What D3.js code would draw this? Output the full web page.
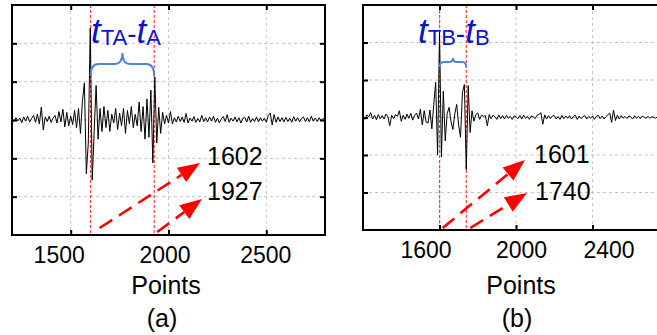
<!DOCTYPE html>
<html>
<head>
<meta charset="utf-8">
<script src="https://cdn.jsdelivr.net/npm/d3@7"></script>
<style>
  body { margin: 0; background: #fff; }
  svg { display: block; }
  svg text { font-family: "Liberation Sans", Arial, sans-serif; }
</style>
</head>
<body>
<div id="chart"></div>
<script>
// sampled waveforms, one value every 10 points starting at point 1200
const startPoint = 1200;
const stepPoint = 10;

const sigA = [
  0.03,-0.04,0.06,-0.02,0.05,-0.07,0.08,-0.03,0.10,-0.05,
  0.04,0.12,-0.06,0.15,-0.10,0.34,-0.26,0.08,-0.04,0.10,
  -0.06,0.05,0.12,-0.08,0.22,-0.05,0.28,-0.18,0.20,-0.15,
  0.10,-0.12,0.25,-0.20,0.30,-0.35,0.50,0.97,-1.40,-0.60,
  2.40,-1.57,-0.30,0.90,-0.50,0.30,-0.30,0.35,-0.20,0.25,
  -0.30,0.15,-0.08,0.30,-0.25,0.18,-0.15,0.30,-0.35,0.25,
  -0.10,0.35,-0.20,0.15,-0.15,0.47,-0.30,0.35,-0.50,0.55,
  -0.45,0.78,-1.12,1.12,-0.60,0.33,-0.35,0.20,-0.10,0.12,
  -0.08,0.22,-0.10,0.06,-0.05,0.10,-0.04,0.08,-0.06,0.17,
  -0.08,0.05,-0.03,0.09,-0.06,0.04,-0.05,0.12,-0.04,0.06,
  -0.05,0.08,-0.03,0.10,-0.06,0.05,-0.07,0.03,0.09,-0.04,
  0.14,-0.06,0.05,-0.03,0.08,-0.05,0.06,-0.08,0.04,0.07,
  -0.05,0.10,-0.06,0.04,-0.04,0.08,-0.05,0.06,-0.03,0.05,
  -0.06,0.12,0.18,-0.13,0.14,-0.06,0.08,-0.04,0.06,-0.05,
  0.07,-0.04,0.05,-0.06,0.09,-0.03,0.06,-0.05,0.04,0.08,
  -0.04,0.06,-0.05,0.10,-0.03,0.05,-0.04,0.06,-0.02,0.04,
  0.00
];

const sigB = [
  0.04,-0.05,0.07,0.02,0.13,-0.04,0.06,-0.06,0.08,-0.03,
  0.05,-0.04,0.09,0.02,-0.22,0.06,-0.03,0.08,0.03,0.18,
  -0.10,0.06,-0.05,0.09,-0.02,0.11,-0.07,0.06,0.12,-0.04,
  0.22,-0.20,0.18,-0.12,-0.15,0.20,-0.30,0.35,0.94,-1.00,
  2.27,-1.05,0.70,-0.62,0.10,0.27,-0.10,-0.32,0.10,0.35,
  -0.20,-0.53,0.67,0.88,-1.39,0.85,-0.40,0.18,-0.10,0.08,
  0.12,-0.05,0.06,0.03,0.05,-0.22,0.08,-0.03,0.06,0.02,
  -0.05,0.07,-0.03,0.05,-0.04,0.06,-0.02,0.03,-0.05,0.04,
  0.02,-0.03,0.05,-0.04,0.06,-0.02,0.03,-0.05,0.04,0.02,
  -0.03,0.06,0.08,0.13,-0.18,0.07,-0.04,0.05,-0.03,0.04,
  0.05,-0.04,0.03,-0.05,0.06,-0.03,0.04,-0.02,0.05,-0.04,
  0.03,0.06,-0.05,0.04,-0.03,0.02,0.05,-0.04,0.03,-0.02,
  0.04,-0.05,0.03,0.06,-0.03,0.04,-0.04,0.02,0.07,0.12,
  -0.13,0.20,-0.08,0.06,-0.04,0.05,-0.02,0.03,-0.03,0.04,
  0.02,-0.04,0.05,-0.02,0.03,-0.03,0.04,0.01,-0.02,0.03,
  -0.02,0.02,0.01,-0.02,0.02,0.00,0.01,-0.01,0.02,0.00,
  0.01
];

const xTicksA = [1500, 2000, 2500];
const xTicksB = [1600, 2000, 2400];
const yTicks = [-2, -1, 0, 1, 2];
const markA = [1602, 1927];
const markB = [1601, 1740];
const labelA = ["1602", "1927"];
const labelB = ["1601", "1740"];

const W = 657, H = 335;
const blue = "#0a14c8";
const braceBlue = "#4f86d6";
const FONT = '"Liberation Sans", Arial, sans-serif';

const svg = d3.select("#chart").append("svg")
  .attr("width", W)
  .attr("height", H);

svg.append("rect").attr("width", W).attr("height", H).attr("fill", "#fff");

function drawPanel(p) {
  const x = d3.scaleLinear().domain([1200, 2800]).range([p.left, p.right]);
  const y = d3.scaleLinear().domain([-3, 3]).range([p.bottom, p.top]);
  const g = svg.append("g");

  // grid
  g.append("g").selectAll("line")
    .data(p.xTicks)
    .enter().append("line")
    .attr("x1", d => x(d)).attr("x2", d => x(d))
    .attr("y1", p.top).attr("y2", p.bottom)
    .attr("stroke", "#c4c4c4").attr("stroke-width", 1)
    .attr("stroke-dasharray", "3,3");
  g.append("g").selectAll("line")
    .data(yTicks)
    .enter().append("line")
    .attr("x1", p.left).attr("x2", p.right)
    .attr("y1", d => y(d)).attr("y2", d => y(d))
    .attr("stroke", "#c4c4c4").attr("stroke-width", 1)
    .attr("stroke-dasharray", "3,3");

  // red marker lines
  g.append("g").selectAll("line")
    .data(p.marks)
    .enter().append("line")
    .attr("x1", d => x(d)).attr("x2", d => x(d))
    .attr("y1", p.top).attr("y2", p.bottom)
    .attr("stroke", "#ff1a1a").attr("stroke-width", 1)
    .attr("stroke-dasharray", "3,2");

  // waveform
  const line = d3.line()
    .x((d, i) => x(startPoint + i * stepPoint))
    .y(d => y(d));
  g.append("path")
    .datum(p.sig)
    .attr("fill", "none")
    .attr("stroke", "#000")
    .attr("stroke-width", 1)
    .attr("stroke-linejoin", "round")
    .attr("d", line);

  // axes with inward ticks on all four sides
  const bottomAxis = g.append("g")
    .attr("transform", "translate(0," + p.bottom + ")")
    .call(d3.axisBottom(x).tickValues(p.xTicks).tickSize(-5).tickPadding(12)
      .tickSizeOuter(0).tickFormat(d3.format("d")));
  bottomAxis.select(".domain").remove();
  bottomAxis.selectAll("text")
    .style("font-size", "23px").style("font-family", FONT).attr("fill", "#000")
    .attr("dx", (d, i) => p.labelShift[i]);
  bottomAxis.selectAll("line").attr("stroke-width", 2);

  const topAxis = g.append("g")
    .attr("transform", "translate(0," + p.top + ")")
    .call(d3.axisTop(x).tickValues(p.xTicks).tickSize(-5).tickFormat("").tickSizeOuter(0));
  topAxis.select(".domain").remove();
  topAxis.selectAll("line").attr("stroke-width", 2);

  const leftAxis = g.append("g")
    .attr("transform", "translate(" + p.left + ",0)")
    .call(d3.axisLeft(y).tickValues(yTicks).tickSize(-5).tickFormat("").tickSizeOuter(0));
  leftAxis.select(".domain").remove();
  leftAxis.selectAll("line").attr("stroke-width", 2);

  const rightAxis = g.append("g")
    .attr("transform", "translate(" + p.right + ",0)")
    .call(d3.axisRight(y).tickValues(yTicks).tickSize(-5).tickFormat("").tickSizeOuter(0));
  rightAxis.select(".domain").remove();
  rightAxis.selectAll("line").attr("stroke-width", 2);

  // frame
  g.append("rect")
    .attr("x", p.left).attr("y", p.top)
    .attr("width", p.right - p.left).attr("height", p.bottom - p.top)
    .attr("fill", "none").attr("stroke", "#000").attr("stroke-width", 2);

  // axis title + panel tag
  g.append("text").attr("x", p.labelX).attr("y", 294)
    .attr("text-anchor", "middle").style("font-size", "25px").text("Points");
  g.append("text").attr("x", p.tagX).attr("y", 327)
    .attr("text-anchor", "middle").style("font-size", "25px").text(p.tag);

  // brace between the two marker lines
  const x0 = x(p.marks[0]), x1 = x(p.marks[1]), xm = (x0 + x1) / 2;
  const bt = p.braceTop, bm = p.braceMid, bb = p.braceBot, r = p.braceR;
  g.append("path")
    .attr("d", "M" + x0 + "," + bb +
      " Q" + x0 + "," + bm + " " + (x0 + r) + "," + bm +
      " L" + (xm - r) + "," + bm +
      " Q" + xm + "," + bm + " " + xm + "," + bt +
      " Q" + xm + "," + bm + " " + (xm + r) + "," + bm +
      " L" + (x1 - r) + "," + bm +
      " Q" + x1 + "," + bm + " " + x1 + "," + bb)
    .attr("fill", "none").attr("stroke", braceBlue).attr("stroke-width", 2);

  // title t_T? - t_?
  const t = g.append("text").attr("x", p.titleX).attr("y", 43).attr("fill", blue);
  t.append("tspan").style("font-size", "35px").style("font-style", "italic").text("t");
  t.append("tspan").style("font-size", "22px").attr("dy", 2).text(p.sub1);
  t.append("tspan").style("font-size", "28px").attr("dy", -2).text("-");
  t.append("tspan").style("font-size", "35px").style("font-style", "italic").text("t");
  t.append("tspan").style("font-size", "22px").attr("dy", 2).text(p.sub2);

  // dashed red arrows to the value labels
  p.arrows.forEach((a, i) => {
    const sx = x(p.marks[i]) + a.sx, sy = p.bottom - a.sy;
    const ex = a.ex, ey = a.ey;
    const ang = Math.atan2(ey - sy, ex - sx);
    const L = 22, hw = 8.5;
    const bx = ex - L * Math.cos(ang), by = ey - L * Math.sin(ang);
    g.append("line")
      .attr("x1", sx).attr("y1", sy).attr("x2", bx).attr("y2", by)
      .attr("stroke", "#ff0000").attr("stroke-width", 2.6)
      .attr("stroke-dasharray", "15,8");
    g.append("path")
      .attr("d", "M" + ex + "," + ey +
        " L" + (bx + hw * Math.sin(ang)) + "," + (by - hw * Math.cos(ang)) +
        " L" + (bx - hw * Math.sin(ang)) + "," + (by + hw * Math.cos(ang)) + " Z")
      .attr("fill", "#ff0000");
    g.append("text").attr("x", a.tx).attr("y", a.ty)
      .style("font-size", "25px").attr("fill", "#000").text(p.labels[i]);
  });
}

drawPanel({
  left: 12, right: 325, top: 5, bottom: 235,
  sig: sigA, xTicks: xTicksA, marks: markA, labels: labelA,
  labelShift: [-12, -4, -1],
  labelX: 166, tagX: 162, tag: "(a)", titleX: 91, sub1: "TA", sub2: "A",
  braceTop: 53, braceMid: 64, braceBot: 76, braceR: 8,
  arrows: [
    { sx: 9, sy: 7, ex: 200, ey: 163, tx: 207, ty: 165 },
    { sx: 3, sy: 3, ex: 202, ey: 199, tx: 207, ty: 200 }
  ]
});

drawPanel({
  left: 363, right: 669, top: 5, bottom: 230,
  sig: sigB, xTicks: xTicksB, marks: markB, labels: labelB,
  labelShift: [-14, 5, 16],
  labelX: 521, tagX: 517, tag: "(b)", titleX: 418, sub1: "TB", sub2: "B",
  braceTop: 58, braceMid: 62, braceBot: 67, braceR: 4,
  arrows: [
    { sx: 3, sy: 2, ex: 525, ey: 160, tx: 534, ty: 163 },
    { sx: 4, sy: 2, ex: 527, ey: 193, tx: 535, ty: 200 }
  ]
});
</script>
</body>
</html>
